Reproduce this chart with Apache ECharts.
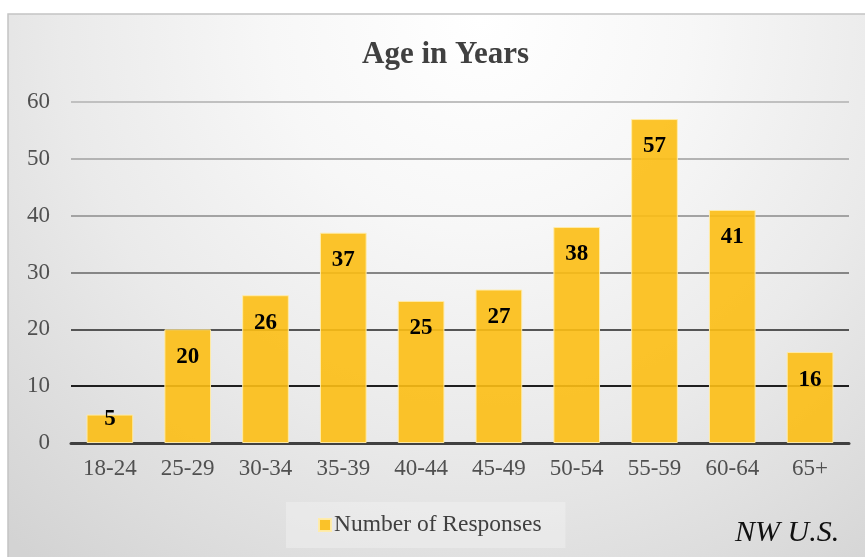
<!DOCTYPE html>
<html>
<head>
<meta charset="utf-8">
<script src="https://cdn.jsdelivr.net/npm/echarts@6/dist/echarts.min.js"></script>
<style>
  html, body { margin: 0; padding: 0; background: #ffffff; }
  #chart { width: 865px; height: 557px; }
</style>
</head>
<body>
<div id="chart"></div>
<script>
// Survey respondents by age group
var ageGroups = ['18-24', '25-29', '30-34', '35-39', '40-44', '45-49', '50-54', '55-59', '60-64', '65+'];
var responses = [5, 20, 26, 37, 25, 27, 38, 57, 41, 16];
var yTicks = [0, 10, 20, 30, 40, 50, 60];

var serif = "'Liberation Serif', 'Times New Roman', Times, serif";

// Gridlines darken from top to bottom (listed from value 0 upward)
var gridColors = ['#404040', '#1f1f1f', '#555555', '#868686', '#a3a3a3', '#b3b3b3', '#c0c0c0'];

var barData = responses.map(function (v) {
  var item = { value: v };
  if (v < 10) {
    // short bars keep their label near the top edge
    item.label = { position: 'top', distance: -16 };
  }
  return item;
});

var chart = echarts.init(document.getElementById('chart'), null, { renderer: 'canvas' });

chart.setOption({
  animation: false,
  backgroundColor: '#ffffff',
  graphic: [
    {
      type: 'rect',
      z: -100,
      silent: true,
      shape: { x: 8, y: 14, width: 900, height: 600 },
      style: {
        fill: {
          type: 'radial', x: 480, y: 20, r: 700, global: true,
          colorStops: [
            { offset: 0, color: '#ffffff' },
            { offset: 0.3, color: '#f7f7f7' },
            { offset: 0.6, color: '#eaeaea' },
            { offset: 1, color: '#d3d3d3' }
          ]
        },
        stroke: '#c4c4c4',
        lineWidth: 1.5
      }
    },
    {
      type: 'text',
      z: 10,
      left: 735,
      top: 518,
      style: {
        text: 'NW U.S.',
        font: 'italic 30px ' + serif,
        fill: '#111111'
      }
    }
  ],
  title: {
    text: 'Age in Years',
    left: 357,
    top: 34,
    textStyle: {
      fontFamily: serif,
      fontWeight: 'bold',
      fontSize: 31,
      color: '#404040'
    }
  },
  legend: {
    left: 286,
    top: 502,
    padding: [11, 24, 11, 32],
    backgroundColor: 'rgba(244,244,244,0.4)',
    icon: 'rect',
    itemWidth: 12,
    itemHeight: 12,
    textStyle: { fontFamily: serif, fontSize: 23.5, color: '#404040', padding: [0, 0, 0, -2] },
    data: ['Number of Responses']
  },
  grid: { left: 71, right: 16, top: 102, bottom: 114 },
  xAxis: {
    type: 'category',
    data: ageGroups,
    axisTick: { show: false },
    axisLine: { show: true, lineStyle: { color: '#404040', width: 3 } },
    axisLabel: { fontFamily: serif, fontSize: 23, color: '#505050', margin: 14 }
  },
  yAxis: {
    type: 'value',
    min: yTicks[0],
    max: yTicks[yTicks.length - 1],
    interval: 10,
    axisLine: { show: false },
    axisTick: { show: false },
    axisLabel: { fontFamily: serif, fontSize: 23, color: '#505050', margin: 21 },
    splitLine: { show: true, lineStyle: { color: gridColors, width: 2 } }
  },
  series: [{
    name: 'Number of Responses',
    type: 'bar',
    data: barData,
    barCategoryGap: '40%',
    itemStyle: {
      color: 'rgba(252,190,20,0.9)',
      borderColor: 'rgba(255,236,170,0.95)',
      borderWidth: 1
    },
    label: {
      show: true,
      position: 'insideTop',
      distance: 16,
      fontFamily: serif,
      fontWeight: 'bold',
      fontSize: 23,
      color: '#000000'
    }
  }]
});
</script>
</body>
</html>
